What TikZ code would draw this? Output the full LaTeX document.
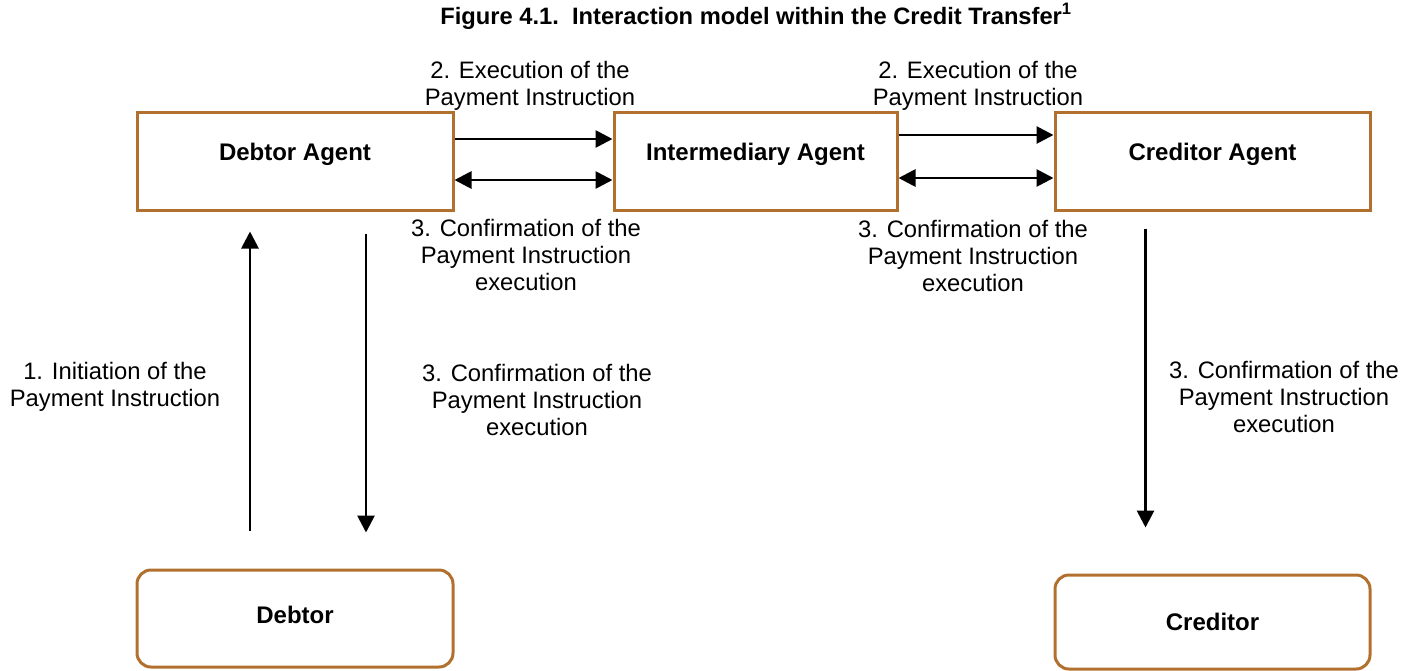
\documentclass[tikz,border=0pt]{standalone}
\usepackage{fontspec}
\setmainfont{Liberation Sans}
\usetikzlibrary{arrows.meta}
\definecolor{boxc}{RGB}{178,112,46}
\begin{document}
\begin{tikzpicture}[x=1pt,y=-1pt,
 box/.style={draw=boxc, line width=3pt, inner sep=0pt},
 agentbox/.style={box, minimum height=98pt},
 partybox/.style={box, rounded corners=14pt},
 lbl/.style={font=\fontsize{24}{27}\selectfont\bfseries, inner sep=0pt, anchor=base},
 txt/.style={font=\fontsize{23.8}{27}\selectfont, align=center, inner sep=0pt},
 arr/.style={line width=2.8pt, -{Triangle[length=17pt,width=17pt]}},
 darr/.style={line width=2.8pt, {Triangle[length=17pt,width=17pt]}-{Triangle[length=17pt,width=17pt]}},
]
\useasboundingbox (0,0) rectangle (1416,670);

% title
\node[font=\fontsize{23.7}{27}\selectfont\bfseries, anchor=base, inner sep=0pt] (title) at (756,24)
  {Figure 4.1.\ \ Interaction model within the Credit Transfer\textsuperscript{1}};

% boxes
\node[agentbox, minimum width=316pt] (da) at (295,161) {};
\node[agentbox, minimum width=283pt] (ia) at (755.5,161) {};
\node[agentbox, minimum width=315pt] (ca) at (1212.5,161) {};
\node[partybox, minimum width=316pt, minimum height=97pt] (debtor) at (295,618.5) {};
\node[partybox, minimum width=315pt, minimum height=94pt] (creditor) at (1212.5,622) {};

% box labels
\node[lbl] (dal) at (295,160) {Debtor Agent};
\node[lbl] (ial) at (755.5,160) {Intermediary Agent};
\node[lbl] (cal) at (1212.5,160) {Creditor Agent};
\node[lbl] (debl) at (295,623) {Debtor};
\node[lbl] (crel) at (1212.5,630) {Creditor};

% horizontal connectors
\draw[arr] ([yshift=22pt]da.east) -- ([yshift=22pt]ia.west);
\draw[darr] ([yshift=-19pt]da.east) -- ([yshift=-19pt]ia.west);
\draw[arr] ([yshift=26pt]ia.east) -- ([yshift=26pt]ca.west);
\draw[darr] ([yshift=-17pt]ia.east) -- ([yshift=-17pt]ca.west);

% vertical connectors
\draw[arr] ([xshift=-45pt,yshift=38pt]debtor.north) -- ([xshift=-45pt,yshift=-20pt]da.south);
\draw[arr] ([xshift=71pt,yshift=-22pt]da.south) -- ([xshift=71pt,yshift=36pt]debtor.north);
\draw[arr] ([xshift=-67pt,yshift=-17pt]ca.south) -- ([xshift=-67pt,yshift=46pt]creditor.north);

% connector labels
\node[txt] (ex1) at (530,85.5) {2. Execution of the\\Payment Instruction};
\node[txt] (ex2) at (978,85.5) {2. Execution of the\\Payment Instruction};
\node[txt] (cf1) at (526,255) {3. Confirmation of the\\Payment Instruction\\execution};
\node[txt] (cf2) at (973,256) {3. Confirmation of the\\Payment Instruction\\execution};
\node[txt] (init) at (115,387) {1. Initiation of the\\Payment Instruction};
\node[txt] (cf3) at (537,400) {3. Confirmation of the\\Payment Instruction\\execution};
\node[txt] (cf4) at (1284,397) {3. Confirmation of the\\Payment Instruction\\execution};
\end{tikzpicture}
\end{document}
